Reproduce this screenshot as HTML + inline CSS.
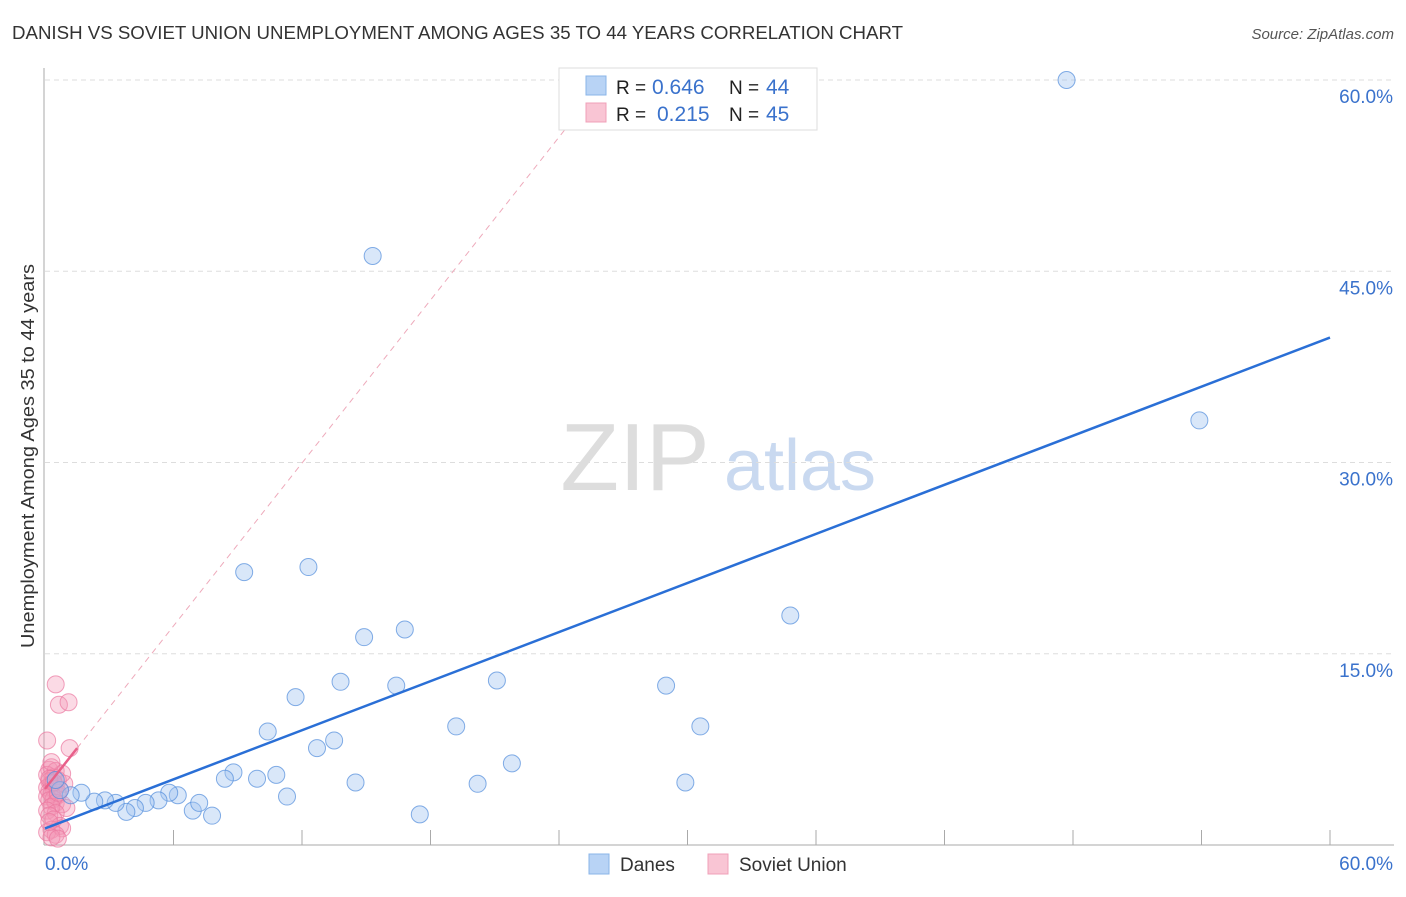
<!DOCTYPE html>
<html><head><meta charset="utf-8"><style>
body{margin:0;background:#fff;font-family:"Liberation Sans",sans-serif}
svg text{font-family:"Liberation Sans",sans-serif}
</style></head><body>
<svg width="1406" height="892" xmlns="http://www.w3.org/2000/svg">
<text x="12" y="39" font-size="18" fill="#333" textLength="891" lengthAdjust="spacingAndGlyphs">DANISH VS SOVIET UNION UNEMPLOYMENT AMONG AGES 35 TO 44 YEARS CORRELATION CHART</text>
<text x="1394" y="39" font-size="15" fill="#555" text-anchor="end" font-style="italic">Source: ZipAtlas.com</text>
<g>
<text x="635" y="490" font-size="96" fill="#ddd" text-anchor="middle" font-family="Liberation Serif">ZIP</text>
<text x="800" y="490" font-size="72" fill="#c9d9f0" text-anchor="middle">atlas</text>
</g>
<g id="grid"></g>
<g id="axes"></g>
<g id="marks"></g>
<text transform="translate(34,456) rotate(-90)" font-size="18" fill="#333" text-anchor="middle" textLength="384" lengthAdjust="spacingAndGlyphs">Unemployment Among Ages 35 to 44 years</text>
<g>
<rect x="559" y="68" width="258" height="62" fill="#fff" stroke="#ddd"/>
<rect x="586" y="76" width="20" height="19" fill="#b8d3f5" stroke="#8ab4e8"/>
<text x="616" y="94" font-size="19" fill="#222">R =</text>
<text x="652" y="94" font-size="21" fill="#3a72cc">0.646</text>
<text x="729" y="94" font-size="19" fill="#222">N =</text>
<text x="766" y="94" font-size="21" fill="#3a72cc">44</text>
<rect x="586" y="103" width="20" height="19" fill="#f9c5d4" stroke="#f0a0b8"/>
<text x="616" y="121" font-size="19" fill="#222">R =</text>
<text x="657" y="121" font-size="21" fill="#3a72cc">0.215</text>
<text x="729" y="121" font-size="19" fill="#222">N =</text>
<text x="766" y="121" font-size="21" fill="#3a72cc">45</text>
</g>
<g>
<rect x="589" y="854" width="20" height="20" fill="#b8d3f5" stroke="#8ab4e8"/>
<text x="620" y="871" font-size="19" fill="#333">Danes</text>
<rect x="708" y="854" width="20" height="20" fill="#f9c5d4" stroke="#f0a0b8"/>
<text x="739" y="871" font-size="19" fill="#333">Soviet Union</text>
</g>
</svg>
<script>
const yTicks=[15,30,45,60];
const yTickLabels=["15.0%","30.0%","45.0%","60.0%"];
const xTicks=[6,12,18,24,30,36,42,48,54,60];
const danesX=[47.7,15.3,53.9,9.3,12.3,34.8,14.9,16.8,11.7,13.8,16.4,21.1,29.0,10.4,19.2,30.6,12.7,13.5,21.8,8.8,8.4,9.9,10.8,14.5,20.2,29.9,11.3,17.5,7.8,6.9,7.2,6.2,5.8,5.3,4.7,4.2,3.8,3.3,2.8,2.3,1.7,1.2,0.7,0.5];
const danesY=[60,46.2,33.3,21.4,21.8,18.0,16.3,16.9,11.6,12.8,12.5,12.9,12.5,8.9,9.3,9.3,7.6,8.2,6.4,5.7,5.2,5.2,5.5,4.9,4.8,4.9,3.8,2.4,2.3,2.7,3.3,3.9,4.1,3.5,3.3,2.9,2.6,3.3,3.5,3.4,4.1,3.9,4.3,5.1];
const sovX=[0.1,0.5,0.65,1.1,1.15,0.2,0.3,0.5,0.1,0.4,0.6,0.2,0.3,0.5,0.1,0.4,0.7,0.2,0.3,0.6,0.1,0.4,0.2,0.5,0.8,1.0,0.3,0.1,0.5,0.2,0.4,0.7,0.8,0.3,0.1,0.5,0.3,0.6,0.2,0.9,0.8,0.3,0.6,0.2,0.4];
const sovY=[8.2,12.6,11.0,11.2,7.6,5.9,6.1,5.8,5.5,5.3,5.1,5.0,4.8,4.6,4.5,4.4,4.3,4.2,4.0,3.9,3.8,3.6,3.5,3.3,3.2,2.9,3.0,2.7,2.5,2.3,2.0,1.5,1.3,1.2,1.0,0.8,0.6,0.5,1.8,4.8,5.6,6.5,4.1,5.2,4.9];
const danesLine=[1.3,39.8];
const sovLine=[4.4,2.13];
const NS="http://www.w3.org/2000/svg";
const xs=v=>45+v*(1285/60), ys=v=>845-v*(765/60);
function mk(t,a,p){const e=document.createElementNS(NS,t);for(const k in a)e.setAttribute(k,a[k]);document.getElementById(p).appendChild(e);return e;}
yTicks.forEach((t,i)=>{
 const g=mk('line',{x1:45,x2:1394,y1:ys(t),y2:ys(t),stroke:'#ddd','stroke-dasharray':'5,4'},'grid');
 
 
 const l=mk('text',{x:1393,y:ys(t)+23,'font-size':19,fill:'#3a72cc','text-anchor':'end'},'grid');
 l.textContent=yTickLabels[i];
 
 
});
const ax=mk('line',{x1:44,x2:44,y1:68,y2:845,stroke:'#aaa'},'axes');


const bx=mk('line',{x1:44,x2:1394,y1:845,y2:845,stroke:'#aaa'},'axes');


xTicks.forEach(t=>{
 const e=mk('line',{x1:xs(t),x2:xs(t),y1:830,y2:845,stroke:'#aaa'},'axes');
 
 
});
const x0=mk('text',{x:45,y:870,'font-size':19,fill:'#3a72cc'},'axes');x0.textContent='0.0%';


const x1=mk('text',{x:1393,y:870,'font-size':19,fill:'#3a72cc','text-anchor':'end'},'axes');x1.textContent='60.0%';


const sd=mk('line',{x1:xs(1.5),y1:ys(sovLine[0]+sovLine[1]*1.5),x2:xs(26),y2:ys(sovLine[0]+sovLine[1]*26),stroke:'#eeaabb','stroke-dasharray':'6,5'},'marks');


sovX.forEach((x,i)=>{
 const c=mk('circle',{cx:xs(x),cy:ys(sovY[i]),r:8.5,fill:'rgba(244,150,180,0.35)',stroke:'rgba(235,120,160,0.7)'},'marks');
 
 
});
danesX.forEach((x,i)=>{
 const c=mk('circle',{cx:xs(x),cy:ys(danesY[i]),r:8.5,fill:'rgba(160,195,240,0.4)',stroke:'rgba(80,140,220,0.7)'},'marks');
 
 
});
const dl=mk('line',{x1:xs(0),y1:ys(danesLine[0]),x2:xs(60),y2:ys(danesLine[1]),stroke:'#2a6fd6','stroke-width':2.5},'marks');


const sl=mk('line',{x1:xs(0),y1:ys(sovLine[0]),x2:xs(1.5),y2:ys(sovLine[0]+sovLine[1]*1.5),stroke:'#e8608a','stroke-width':2.5},'marks');


</script>
</body></html>
